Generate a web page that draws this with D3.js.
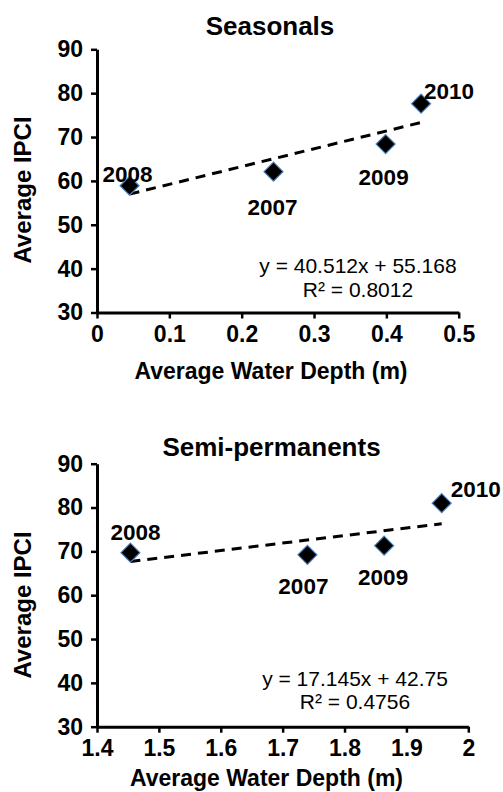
<!DOCTYPE html>
<html>
<head>
<meta charset="utf-8">
<script src="https://cdn.jsdelivr.net/npm/d3@7"></script>
<style>
    body { margin: 0; background: #fff; }
    svg { display: block; font-family: 'Liberation Sans', Arial, Helvetica, sans-serif; }
</style>
</head>
<body>
<div id="plot"></div>
<script>
// values (year order 2007..2010)
let years = ['2007', '2008', '2009', '2010'];

let seasonalDepth = [0.244, 0.045, 0.399, 0.448];
let seasonalIpci = [62.1, 58.9, 68.4, 77.6];
let seasonalFit = [40.512, 55.168];
let seasonalEq = ['y = 40.512x + 55.168', 'R² = 0.8012'];
let seasonalTicks = [0, 0.1, 0.2, 0.3, 0.4, 0.5];

let semiDepth = [1.740, 1.454, 1.864, 1.957];
let semiIpci = [69.2, 69.7, 71.3, 81.0];
let semiFit = [17.145, 42.75];
let semiEq = ['y = 17.145x + 42.75', 'R² = 0.4756'];
let semiTicks = [1.4, 1.5, 1.6, 1.7, 1.8, 1.9, 2];

let ipciTicks = [30, 40, 50, 60, 70, 80, 90];

let svgWidth = 503;
let svgHeight = 792;

let $svg = d3.select('#plot')
    .append('svg')
    .attr('width', svgWidth)
    .attr('height', svgHeight);

$svg.append('rect')
    .attr('width', svgWidth)
    .attr('height', svgHeight)
    .attr('fill', '#fff');

// layout of each panel (pixels)
let panels = [
    {
        title: 'Seasonals', titleX: 270, titleY: 35,
        depth: seasonalDepth, ipci: seasonalIpci, fit: seasonalFit, eq: seasonalEq,
        ticks: seasonalTicks, xDomain: [0, 0.5],
        xRange: [97, 458.7], yRange: [312.5, 49.3],
        eqX: 358, eqY: [273, 297],
        xLabelX: 271, xLabelY: 379, yLabelY: 190,
        // label offsets for 2007, 2008, 2009, 2010
        labelOffsets: [[-1, 43], [-2, -4], [-2, 41], [28, -5]]
    },
    {
        title: 'Semi-permanents', titleX: 271.5, titleY: 456,
        depth: semiDepth, ipci: semiIpci, fit: semiFit, eq: semiEq,
        ticks: semiTicks, xDomain: [1.4, 2],
        xRange: [97, 468.3], yRange: [726.7, 463.7],
        eqX: 355, eqY: [686, 709],
        xLabelX: 266.5, xLabelY: 786, yLabelY: 605,
        labelOffsets: [[-4, 39], [5, -13], [-1, 39], [34, -6]]
    }
];

function drawPanel(p) {
    let g = $svg.append('g');

    let xScale = d3.scaleLinear().domain(p.xDomain).range(p.xRange);
    let yScale = d3.scaleLinear().domain([30, 90]).range(p.yRange);

    let bottomAxis = d3.axisBottom(xScale)
        .tickValues(p.ticks)
        .tickFormat(d3.format('~g'))
        .tickSize(6)
        .tickSizeOuter(0)
        .tickPadding(7);

    let leftAxis = d3.axisLeft(yScale)
        .tickValues(ipciTicks)
        .tickSize(6)
        .tickSizeOuter(0)
        .tickPadding(8);

    let xAxisG = g.append('g')
        .attr('transform', `translate(0, ${p.yRange[0]})`)
        .call(bottomAxis);

    let yAxisG = g.append('g')
        .attr('transform', `translate(${p.xRange[0]}, 0)`)
        .call(leftAxis);

    [xAxisG, yAxisG].forEach(ax => {
        ax.select('.domain').attr('stroke', '#000').attr('stroke-width', 3);
        ax.selectAll('.tick line').attr('stroke', '#000').attr('stroke-width', 2.5);
        ax.selectAll('.tick text')
            .attr('fill', '#000')
            .style('font-size', '23px')
            .style('font-weight', 'bold')
            .style('font-family', "'Liberation Sans', Arial, sans-serif");
    });

    // title
    g.append('text')
        .attr('x', p.titleX)
        .attr('y', p.titleY)
        .attr('text-anchor', 'middle')
        .style('font-size', '26px')
        .style('font-weight', 'bold')
        .text(p.title);

    // axis labels
    g.append('text')
        .attr('x', p.xLabelX)
        .attr('y', p.xLabelY)
        .attr('text-anchor', 'middle')
        .style('font-size', '23px')
        .style('font-weight', 'bold')
        .text('Average Water Depth (m)');

    g.append('text')
        .attr('transform', `translate(31, ${p.yLabelY}) rotate(-90)`)
        .attr('text-anchor', 'middle')
        .style('font-size', '24px')
        .style('font-weight', 'bold')
        .text('Average IPCI');

    // trend line from the fitted equation
    let xMin = d3.min(p.depth);
    let xMax = d3.max(p.depth);
    g.append('line')
        .attr('x1', xScale(xMin))
        .attr('y1', yScale(p.fit[0] * xMin + p.fit[1]))
        .attr('x2', xScale(xMax))
        .attr('y2', yScale(p.fit[0] * xMax + p.fit[1]))
        .attr('stroke', '#000')
        .attr('stroke-width', 3)
        .attr('stroke-dasharray', '10,7');

    // diamonds
    let h = 9.5;
    g.selectAll('path.pt')
        .data(years)
        .enter()
        .append('path')
        .attr('class', 'pt')
        .attr('transform', (d, i) => `translate(${xScale(p.depth[i])}, ${yScale(p.ipci[i])})`)
        .attr('d', `M0,${-h}L${h},0L0,${h}L${-h},0Z`)
        .attr('fill', '#000')
        .attr('stroke', '#4a7ebb')
        .attr('stroke-width', 1.2);

    // year labels
    g.selectAll('text.yr')
        .data(years)
        .enter()
        .append('text')
        .attr('class', 'yr')
        .attr('x', (d, i) => xScale(p.depth[i]) + p.labelOffsets[i][0])
        .attr('y', (d, i) => yScale(p.ipci[i]) + p.labelOffsets[i][1])
        .attr('text-anchor', 'middle')
        .style('font-size', '22.5px')
        .style('font-weight', 'bold')
        .text(d => d);

    // equation
    p.eq.forEach((line, i) => {
        g.append('text')
            .attr('x', p.eqX)
            .attr('y', p.eqY[i])
            .attr('text-anchor', 'middle')
            .style('font-size', '21px')
            .text(line);
    });
}

panels.forEach(drawPanel);
</script>
</body>
</html>
